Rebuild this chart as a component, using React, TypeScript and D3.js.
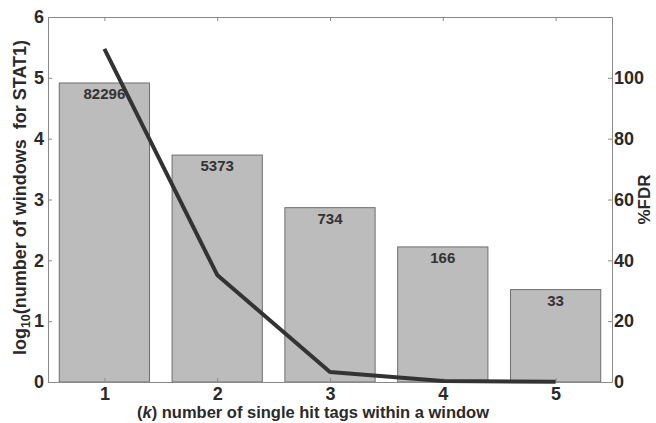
import { useEffect, useRef } from "react";
import * as d3 from "d3";

const ks = [1, 2, 3, 4, 5];
const windowCounts = [82296, 5373, 734, 166, 33];
const fdrPercent = [109.5, 35.2, 3.3, 0.3, 0.05];
const leftTicks = [0, 1, 2, 3, 4, 5, 6];
const rightTicks = [0, 20, 40, 60, 80, 100];

export default function App() {
  const ref = useRef<SVGSVGElement>(null);

  useEffect(() => {
    const width = 656;
    const height = 423;
    const margin = { top: 17, right: 44, bottom: 41, left: 48 };
    const font = "'Liberation Sans', Arial, sans-serif";

    const svg = d3.select(ref.current).attr("width", width).attr("height", height);
    svg.selectAll("*").remove();

    const x = d3.scaleLinear().domain([0.5, 5.5]).range([margin.left, width - margin.right]);
    const y = d3.scaleLinear().domain([0, 6]).range([height - margin.bottom, margin.top]);
    const y2 = d3.scaleLinear().domain([0, 120]).range([height - margin.bottom, margin.top]);
    const bw = (x(2) - x(1)) * 0.8;

    svg.append("rect").attr("width", width).attr("height", height).attr("fill", "#fff");

    // bars
    const bars = svg.append("g");
    ks.forEach((k, i) => {
      const v = Math.log10(windowCounts[i]);
      bars
        .append("rect")
        .attr("x", x(k) - bw / 2)
        .attr("y", y(v))
        .attr("width", bw)
        .attr("height", y(0) - y(v))
        .attr("fill", "#bcbcbc")
        .attr("stroke", "#6e6e6e")
        .attr("stroke-width", 1);
      bars
        .append("text")
        .attr("x", x(k))
        .attr("y", y(v) + 16)
        .attr("text-anchor", "middle")
        .attr("font-family", font)
        .attr("font-weight", "bold")
        .attr("font-size", 15)
        .attr("fill", "#333")
        .text(windowCounts[i]);
    });

    // axes
    const tickStyle = (g: any) => {
      g.select(".domain").attr("stroke", "#8a8a8a");
      g.selectAll(".tick line").attr("stroke", "#8a8a8a");
      g.selectAll("text")
        .attr("font-family", font)
        .attr("font-weight", "bold")
        .attr("font-size", 18)
        .attr("fill", "#2a2a2a");
    };

    svg
      .append("g")
      .attr("transform", `translate(0,${y(0)})`)
      .call(d3.axisBottom(x).tickValues(ks).tickSize(-4).tickSizeOuter(0).tickPadding(5).tickFormat(d3.format("d")))
      .call(tickStyle);

    svg
      .append("g")
      .attr("transform", `translate(0,${margin.top})`)
      .call(d3.axisTop(x).tickValues(ks).tickSize(-4).tickSizeOuter(0).tickFormat(() => ""))
      .call(tickStyle);

    svg
      .append("g")
      .attr("transform", `translate(${margin.left},0)`)
      .call(d3.axisLeft(y).tickValues(leftTicks).tickSize(-4).tickSizeOuter(0).tickPadding(4).tickFormat(d3.format("d")))
      .call(tickStyle);

    svg
      .append("g")
      .attr("transform", `translate(${width - margin.right},0)`)
      .call(d3.axisRight(y2).tickValues(rightTicks).tickSize(-4).tickSizeOuter(0).tickPadding(2).tickFormat(d3.format("d")))
      .call(tickStyle);

    // FDR line
    const line = d3
      .line<number>()
      .x((_, i) => x(ks[i]))
      .y((d) => y2(d));
    svg
      .append("path")
      .datum(fdrPercent)
      .attr("fill", "none")
      .attr("stroke", "#333")
      .attr("stroke-width", 4)
      .attr("stroke-linejoin", "round")
      .attr("d", line);

    // axis titles
    svg
      .append("text")
      .attr("x", 313)
      .attr("y", 418)
      .attr("text-anchor", "middle")
      .attr("font-family", font)
      .attr("font-weight", "bold")
      .attr("font-size", 16.5)
      .attr("fill", "#2a2a2a")
      .call((t) => {
        t.append("tspan").text("(");
        t.append("tspan").attr("font-style", "italic").text("k");
        t.append("tspan").text(") number of single hit tags within a window");
      });

    const yl = svg
      .append("text")
      .attr("transform", `translate(26,${(28 + 367) / 2}) rotate(-90)`)
      .attr("text-anchor", "middle")
      .attr("font-family", font)
      .attr("font-weight", "bold")
      .attr("font-size", 18)
      .attr("fill", "#2a2a2a");
    yl.append("tspan").text("log");
    yl.append("tspan").attr("font-size", 12.5).attr("dy", 4).text("10");
    yl.append("tspan").attr("dy", -4).text("(number of windows\u00a0 for STAT1)");

    svg
      .append("text")
      .attr("transform", `translate(650,${y2(60)}) rotate(-90)`)
      .attr("text-anchor", "middle")
      .attr("font-family", font)
      .attr("font-weight", "bold")
      .attr("font-size", 17)
      .attr("fill", "#2a2a2a")
      .text("%FDR");
  }, []);

  return <svg ref={ref} style={{ display: "block", position: "absolute", left: 0, top: 0 }} />;
}
